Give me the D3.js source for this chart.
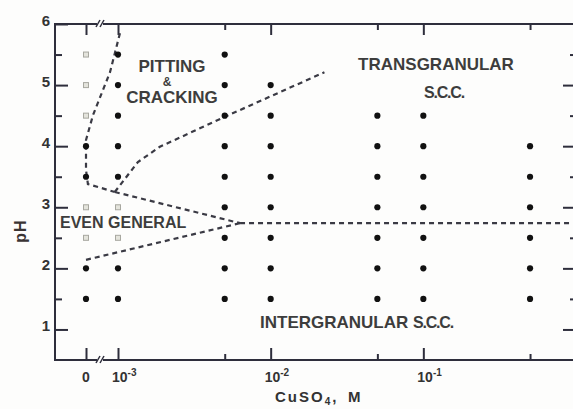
<!DOCTYPE html>
<html>
<head>
<meta charset="utf-8">
<script src="https://cdn.jsdelivr.net/npm/d3@7"></script>
<style>
  html, body { margin: 0; padding: 0; background: #fdfdfc; }
  svg { display: block; font-family: "Liberation Sans", Arial, Helvetica, sans-serif; }
</style>
</head>
<body>
<svg id="chart" width="573" height="409"></svg>
<script>
// Test concentrations (M CuSO4) and the pH values tested at each one
const concentrations = [0, 0.001, 0.005, 0.01, 0.05, 0.1, 0.5];
// Filled circles: cracking / pitting observed
const filledPH = [
  [4, 3.5, 2, 1.5],
  [5.5, 5, 4.5, 4, 3.5, 2, 1.5],
  [5.5, 5, 4.5, 4, 3.5, 3, 2.5, 2, 1.5],
  [5, 4.5, 4, 3.5, 3, 2.5, 2, 1.5],
  [4.5, 4, 3.5, 3, 2.5, 2, 1.5],
  [4.5, 4, 3.5, 3, 2.5, 2, 1.5],
  [4, 3.5, 3, 2.5, 2, 1.5]
];
// Open squares: general corrosion only
const openPH = [
  [5.5, 5, 4.5, 3, 2.5],
  [3, 2.5],
  [], [], [], [], []
];

// Region boundaries, as [concentration, pH] pairs
const leftBoundary = [[0.00103, 5.85], [0.00075, 5.21], [0.00022, 4.51], [0, 4.1], [0, 3.61], [0.00006, 3.38], [0.0009, 3.25]];
const pittingBoundary = [[0.0009, 3.25], [0.00135, 3.74], [0.00188, 3.99], [0.005, 4.48], [0.0225, 5.21]];
const evenUpper = [[0.0009, 3.25], [0.0063, 2.74]];
const evenLower = [[0, 2.14], [0.0063, 2.74]];
const transIntergranular = [[0.0063, 2.74], [1, 2.74]];

// Axis ticks
const yMajor = [1, 2, 3, 4, 5, 6];
const yMinor = [1.5, 2.5, 3.5, 4.5, 5.5];
const xMajor = [0, 0.001, 0.01, 0.1];
const xMinor = [0.005, 0.05, 0.5];
const xTickLabels = ["0", "10^-3", "10^-2", "10^-1"];

// Region labels
const regionLabels = [
  { lines: ["PITTING", "&", "CRACKING"] },
  { lines: ["TRANSGRANULAR", "S.C.C."] },
  { lines: ["EVEN GENERAL"] },
  { lines: ["INTERGRANULAR S.C.C."] }
];

const svg = d3.select("#chart");
const W = 573, H = 409;
const plotLeft = 55, plotTop = 24, plotBottom = 360, plotRight = 576;
const ink = "#2e2e3c";

// pH scale
const y = d3.scaleLinear().domain([0.5, 6]).range([plotBottom, plotTop]);

// Broken concentration scale: zero sits left of the break, log decades to the right
function makeX() {
  const log = d3.scaleLog().domain([0.001, 1]).range([118, 576]);
  const x0 = 86;
  function scale(c) {
    if (c <= 0) return x0;
    if (c < 0.001) return x0 + (log(0.001) - x0) * c / 0.001;
    return log(c);
  }
  scale.copy = makeX;
  scale.domain = () => [0, 1];
  scale.range = () => [x0, 576];
  return scale;
}
const x = makeX();

svg.append("rect").attr("width", W).attr("height", H).attr("fill", "#fdfdfc");

// Frame
const frame = svg.append("g").attr("stroke", ink).attr("stroke-width", 2).attr("fill", "none");
frame.append("line").attr("x1", plotLeft).attr("x2", plotLeft).attr("y1", plotTop - 1).attr("y2", plotBottom + 1);
frame.append("line").attr("x1", plotLeft).attr("x2", W).attr("y1", plotTop).attr("y2", plotTop);
frame.append("line").attr("x1", plotLeft).attr("x2", W).attr("y1", plotBottom).attr("y2", plotBottom);

// Axis break marks between 0 and 10^-3
const brk = svg.append("g");
brk.append("rect").attr("x", 97).attr("y", plotTop - 3).attr("width", 6).attr("height", 6).attr("fill", "#fdfdfc");
brk.append("rect").attr("x", 97).attr("y", plotBottom - 3).attr("width", 6).attr("height", 6).attr("fill", "#fdfdfc");
[[96, plotTop + 3, 100, plotTop - 4], [100, plotTop + 3, 104, plotTop - 4], [96, plotBottom + 3, 100, plotBottom - 4], [100, plotBottom + 3, 104, plotBottom - 4]]
  .forEach(s => brk.append("line").attr("x1", s[0]).attr("y1", s[1]).attr("x2", s[2]).attr("y2", s[3])
    .attr("stroke", ink).attr("stroke-width", 1.5));

function styleAxis(g) {
  g.select(".domain").remove();
  g.selectAll("line").attr("stroke", ink).attr("stroke-width", 2);
  g.selectAll("text").remove();
}

// Y axis ticks, left and right
svg.append("g").attr("transform", `translate(${plotLeft},0)`)
  .call(d3.axisRight(y).tickValues(yMajor).tickSize(13).tickSizeOuter(0)).call(styleAxis);
svg.append("g").attr("transform", `translate(${plotLeft},0)`)
  .call(d3.axisRight(y).tickValues(yMinor).tickSize(7).tickSizeOuter(0)).call(styleAxis);
svg.append("g").attr("transform", `translate(${plotRight},0)`)
  .call(d3.axisLeft(y).tickValues(yMajor.filter(v => v < 6)).tickSize(13).tickSizeOuter(0)).call(styleAxis);
svg.append("g").attr("transform", `translate(${plotRight},0)`)
  .call(d3.axisLeft(y).tickValues(yMinor).tickSize(6).tickSizeOuter(0)).call(styleAxis);

// X axis ticks, bottom and top
svg.append("g").attr("transform", `translate(0,${plotBottom})`)
  .call(d3.axisTop(x).tickValues(xMajor).tickSize(12).tickSizeOuter(0)).call(styleAxis);
svg.append("g").attr("transform", `translate(0,${plotBottom})`)
  .call(d3.axisTop(x).tickValues(xMinor).tickSize(6).tickSizeOuter(0)).call(styleAxis);
svg.append("g").attr("transform", `translate(0,${plotTop})`)
  .call(d3.axisBottom(x).tickValues(xMajor).tickSize(11).tickSizeOuter(0)).call(styleAxis);
svg.append("g").attr("transform", `translate(0,${plotTop})`)
  .call(d3.axisBottom(x).tickValues(xMinor).tickSize(6).tickSizeOuter(0)).call(styleAxis);

// Y tick labels
svg.append("g").selectAll("text").data(yMajor).join("text")
  .attr("x", 50).attr("y", d => y(d) + 2)
  .attr("text-anchor", "end").attr("font-size", 15).attr("font-weight", "bold").attr("fill", "#333")
  .text(d => d);

// X tick labels with superscript exponents
const xl = svg.append("g").attr("font-weight", "bold").attr("fill", "#333");
xMajor.forEach((v, i) => {
  const [base, exp] = xTickLabels[i].split("^");
  const t = xl.append("text").attr("y", 382).attr("font-size", 14);
  if (exp === undefined) {
    t.attr("x", x(v)).attr("text-anchor", "middle").text(base);
  } else {
    t.attr("x", x(v) - 6).attr("text-anchor", "start");
    t.append("tspan").text(base);
    t.append("tspan").attr("font-size", 10).attr("dy", -6).text(exp);
  }
});

// Axis titles
svg.append("text")
  .attr("transform", "translate(26,231) rotate(-90)")
  .attr("text-anchor", "middle").attr("font-size", 16).attr("font-weight", "bold")
  .attr("fill", "#3a3434").attr("letter-spacing", 1)
  .text("pH");
const xt = svg.append("text").attr("x", 275).attr("y", 402)
  .attr("font-size", 15).attr("font-weight", "bold").attr("fill", "#333").attr("letter-spacing", 2);
xt.append("tspan").text("CuSO");
xt.append("tspan").attr("font-size", 10).attr("dy", 3).text("4");
xt.append("tspan").attr("dy", -3).text(",");
xt.append("tspan").attr("x", 348).text("M");

// Region boundaries
const line = d3.line().x(d => x(d[0])).y(d => y(d[1]));
const bounds = svg.append("g").attr("fill", "none").attr("stroke", "#3a3a44")
  .attr("stroke-width", 2.2).attr("stroke-dasharray", "5,4");
[leftBoundary, pittingBoundary, evenUpper, evenLower, transIntergranular].forEach(b =>
  bounds.append("path").attr("d", line(b)));

// Test points
const pts = concentrations.flatMap((c, i) => filledPH[i].map(p => ({ c, p })));
const sq = concentrations.flatMap((c, i) => openPH[i].map(p => ({ c, p })));
svg.append("g").selectAll("circle").data(pts).join("circle")
  .attr("cx", d => x(d.c)).attr("cy", d => y(d.p)).attr("r", 3.1).attr("fill", "#111");
svg.append("g").selectAll("rect").data(sq).join("rect")
  .attr("x", d => x(d.c) - 2.5).attr("y", d => y(d.p) - 2.5).attr("width", 5).attr("height", 5)
  .attr("fill", "#e4e4dc").attr("stroke", "#a8a8a0").attr("stroke-width", 1);

// Region labels
const lab = svg.append("g").attr("font-weight", "bold").attr("fill", "#3d3d3d").attr("font-size", 17);
const pit = lab.append("text").attr("text-anchor", "middle");
pit.append("tspan").attr("x", 172).attr("y", 72).text(regionLabels[0].lines[0]);
pit.append("tspan").attr("x", 167).attr("y", 86).attr("font-size", 12).text(regionLabels[0].lines[1]);
pit.append("tspan").attr("x", 172).attr("y", 103).text(regionLabels[0].lines[2]);
const tr = lab.append("text").attr("text-anchor", "middle");
tr.append("tspan").attr("x", 436).attr("y", 70).text(regionLabels[1].lines[0]);
tr.append("tspan").attr("x", 444).attr("y", 98).attr("font-size", 16).attr("letter-spacing", -1.2).text(regionLabels[1].lines[1]);
lab.append("text").attr("x", 60).attr("y", 228).attr("font-size", 16).text(regionLabels[2].lines[0]);
const ig = lab.append("text").attr("x", 260).attr("y", 328);
const [igA, igB] = regionLabels[3].lines[0].split(" ");
ig.append("tspan").text(igA + " ");
ig.append("tspan").attr("font-size", 16).attr("letter-spacing", -1.2).text(igB);
</script>
</body>
</html>
